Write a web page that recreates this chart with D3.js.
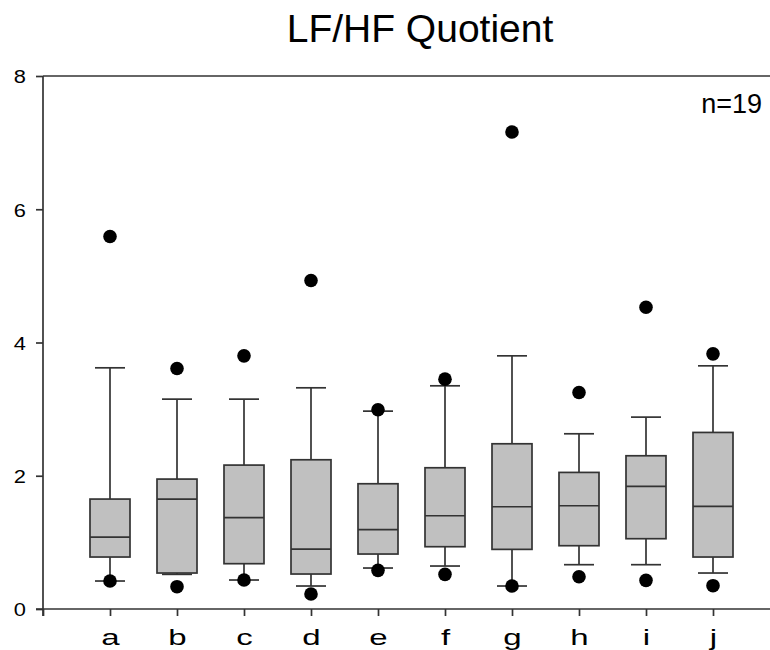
<!DOCTYPE html>
<html><head><meta charset="utf-8">
<script src="https://cdn.jsdelivr.net/npm/d3@7"></script>
<style>body{margin:0;background:#fff}svg{display:block}text{font-family:"Liberation Sans",Arial,sans-serif}</style>
</head><body>
<svg id="c" width="770" height="650"></svg>
<script>
const categories = ["a","b","c","d","e","f","g","h","i","j"];
const whiskerLow  = [0.42,0.52,0.435,0.345,0.615,0.645,0.345,0.665,0.665,0.54];
const q1          = [0.78,0.54,0.68,0.525,0.825,0.935,0.895,0.95,1.055,0.78];
const median      = [1.08,1.65,1.37,0.90,1.19,1.40,1.535,1.55,1.84,1.54];
const q3          = [1.65,1.95,2.16,2.24,1.88,2.12,2.48,2.05,2.30,2.65];
const whiskerHigh = [3.62,3.15,3.15,3.32,2.97,3.35,3.80,2.63,2.88,3.65];
const outlierLow  = [0.42,0.335,0.435,0.225,0.58,0.52,0.345,0.485,0.43,0.35];
const outlierHigh = [5.59,3.61,3.80,4.93,2.99,3.45,7.16,3.25,4.53,3.83];
const yTicks = [0,2,4,6,8];

const svg = d3.select("#c");
const lineCol = "#333";
const sw = 1.7;
const x = d3.scaleLinear().domain([0, 11]).range([43, 780]);
const y = d3.scaleLinear().domain([0, 8]).range([609, 76]);

// title
svg.append("text").attr("x", 420).attr("y", 42).attr("text-anchor", "middle")
  .attr("font-size", 39).attr("fill", "#000").text("LF/HF Quotient");

// y axis
const ya = svg.append("g").attr("transform", "translate(43,0)")
  .call(d3.axisLeft(y).tickValues(yTicks).tickSize(7).tickSizeOuter(0));
ya.select(".domain").remove();
ya.append("line").attr("x1",0).attr("x2",0).attr("y1",y(8)).attr("y2",616)
  .attr("stroke", lineCol).attr("stroke-width", sw);
ya.selectAll(".tick line").attr("stroke", lineCol).attr("stroke-width", sw);
ya.selectAll(".tick text").attr("font-size", 19).attr("fill", "#000")
  .attr("font-family", "Liberation Sans, Arial, sans-serif").attr("x", 0).attr("dy", "0.36em")
  .attr("transform", "translate(-17,0) scale(1.15,1)");

// top frame line
svg.append("line").attr("x1", 43).attr("x2", 770).attr("y1", y(8)).attr("y2", y(8))
  .attr("stroke", lineCol).attr("stroke-width", sw);

// x axis
const xa = svg.append("g").attr("transform", `translate(0,${y(0)})`)
  .call(d3.axisBottom(x).tickValues(d3.range(0, 11)).tickSize(7).tickSizeOuter(0)
    .tickFormat(i => i === 0 ? "" : categories[i - 1]));
xa.select(".domain").attr("d", `M36,0H780`).attr("stroke", lineCol).attr("stroke-width", sw);
xa.selectAll(".tick line").attr("stroke", lineCol).attr("stroke-width", sw);
xa.selectAll(".tick text").attr("font-size", 22).attr("fill", "#000")
  .attr("font-family", "Liberation Sans, Arial, sans-serif").attr("y", 0).attr("dy", 0)
  .attr("transform", "translate(0,36) scale(1.5,1)");

// boxes
const data = categories.map((c, i) => ({c, i, lo: whiskerLow[i], q1: q1[i], med: median[i], q3: q3[i], hi: whiskerHigh[i], oL: outlierLow[i], oH: outlierHigh[i]}));
const boxW = 40, capW = 30;
const g = svg.append("g").selectAll("g").data(data).join("g")
  .attr("transform", d => `translate(${x(d.i + 1)},0)`);
g.append("line").attr("y1", d => y(d.hi)).attr("y2", d => y(d.q3)).attr("stroke", lineCol).attr("stroke-width", sw);
g.append("line").attr("y1", d => y(d.q1)).attr("y2", d => y(d.lo)).attr("stroke", lineCol).attr("stroke-width", sw);
g.append("line").attr("x1", -capW/2).attr("x2", capW/2).attr("y1", d => y(d.hi)).attr("y2", d => y(d.hi)).attr("stroke", lineCol).attr("stroke-width", sw);
g.append("line").attr("x1", -capW/2).attr("x2", capW/2).attr("y1", d => y(d.lo)).attr("y2", d => y(d.lo)).attr("stroke", lineCol).attr("stroke-width", sw);
g.append("rect").attr("x", -boxW/2).attr("width", boxW)
  .attr("y", d => y(d.q3)).attr("height", d => y(d.q1) - y(d.q3))
  .attr("fill", "#c0c0c0").attr("stroke", lineCol).attr("stroke-width", sw);
g.append("line").attr("x1", -boxW/2).attr("x2", boxW/2).attr("y1", d => y(d.med)).attr("y2", d => y(d.med)).attr("stroke", lineCol).attr("stroke-width", sw);
g.append("circle").attr("r", 6.8).attr("cy", d => y(d.oH)).attr("fill", "#000");
g.append("circle").attr("r", 6.8).attr("cy", d => y(d.oL)).attr("fill", "#000");

// n label
svg.append("text").attr("x", 762).attr("y", 113).attr("text-anchor", "end")
  .attr("font-size", 27).attr("fill", "#000").text("n=19");
</script>
</body></html>
